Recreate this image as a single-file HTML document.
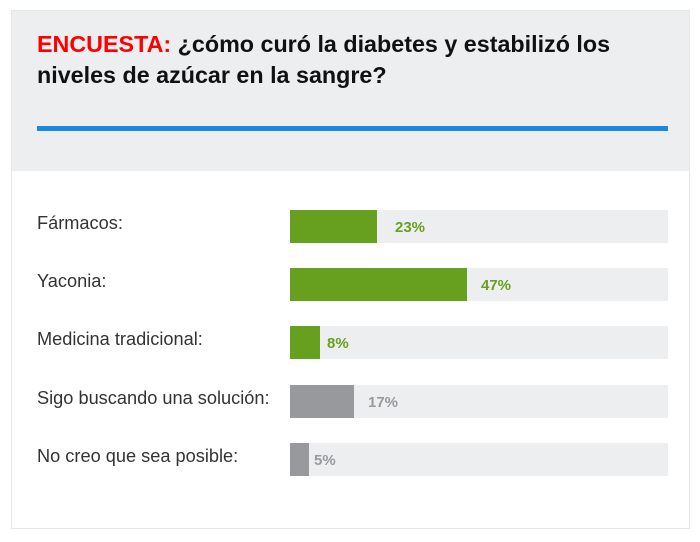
<!DOCTYPE html>
<html><head><meta charset="utf-8"><style>
body{margin:0;width:700px;height:542px;background:#fff;font-family:"Liberation Sans",Arial,sans-serif;position:relative;overflow:hidden}
.box{position:absolute;left:11px;top:10px;width:679px;height:519px;border:1px solid #e6e7e9;box-sizing:border-box}
.head{position:absolute;left:11px;top:10px;width:679px;height:161px;background:#edeef0}
.title{position:absolute;left:37px;top:29px;width:640px;font-size:23.3px;font-weight:bold;line-height:31px;color:#111}
.title span{color:#f00}
.blue{position:absolute;left:37px;top:126px;width:631px;height:5px;background:#1a88e1}
.lbl{position:absolute;left:37px;font-size:18.2px;color:#333}
.track{position:absolute;left:290px;width:378px;height:33px;background:#edeef0}
.fill{position:absolute;left:0;top:0;height:33px}
.pct{position:absolute;top:9px;font-size:15px;font-weight:bold}
.g{background:#66a01e}.gc{color:#66a01e}
.s{background:#98999c}.sc{color:#98999c}
</style></head><body>
<div class="head"></div><div class="box"></div>
<div class="title"><span>ENCUESTA:</span> ¿cómo curó la diabetes y estabilizó los niveles de azúcar en la sangre?</div>
<div class="blue"></div>

<div class="lbl" style="top:213px">Fármacos:</div>
<div class="track" style="top:210px"><div class="fill g" style="width:87px"></div><div class="pct gc" style="left:105px">23%</div></div>

<div class="lbl" style="top:271px">Yaconia:</div>
<div class="track" style="top:268px"><div class="fill g" style="width:177px"></div><div class="pct gc" style="left:191px">47%</div></div>

<div class="lbl" style="top:329px">Medicina tradicional:</div>
<div class="track" style="top:326px"><div class="fill g" style="width:30px"></div><div class="pct gc" style="left:37px">8%</div></div>

<div class="lbl" style="top:388px">Sigo buscando una solución:</div>
<div class="track" style="top:385px"><div class="fill s" style="width:64px"></div><div class="pct sc" style="left:78px">17%</div></div>

<div class="lbl" style="top:446px">No creo que sea posible:</div>
<div class="track" style="top:443px"><div class="fill s" style="width:19px"></div><div class="pct sc" style="left:24px">5%</div></div>
</body></html>
